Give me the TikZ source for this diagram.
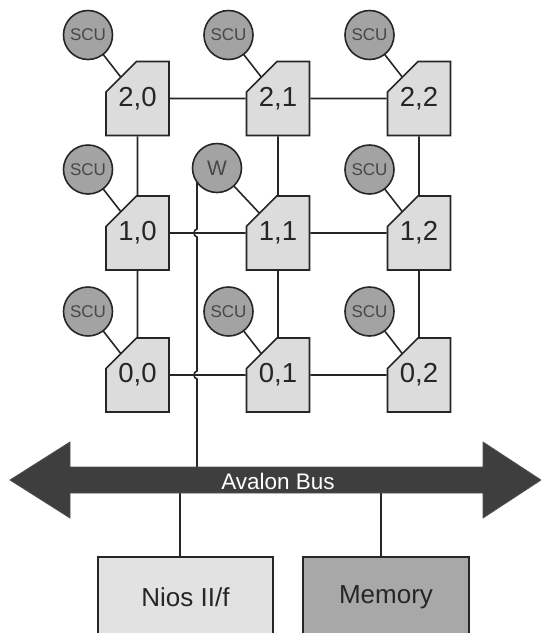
\documentclass[tikz,border=0pt]{standalone}
\usepackage{fontspec}
\setmainfont{Liberation Sans}
\usetikzlibrary{shapes.misc,backgrounds}
\definecolor{ln}{HTML}{262626}
\definecolor{tilefill}{HTML}{DCDCDC}
\definecolor{scufill}{HTML}{A3A3A3}
\definecolor{memfill}{HTML}{A8A8A8}
\definecolor{niosfill}{HTML}{E2E2E2}
\definecolor{busfill}{HTML}{3E3E3E}
\tikzset{
  tile/.style={chamfered rectangle, chamfered rectangle corners=north west,
    chamfered rectangle xsep=25pt, chamfered rectangle ysep=23pt,
    minimum width=63pt, minimum height=74pt, inner sep=0pt,
    draw=ln, fill=tilefill, line width=1.6pt, text=ln,
    font=\fontsize{27.5}{30}\selectfont},
  unit/.style={circle, minimum size=49pt, inner sep=0pt, draw=ln, fill=scufill,
    line width=1.6pt, text=ln!85, font=\fontsize{17}{18}\selectfont},
  wire/.style={draw=ln, line width=1.6pt},
  block/.style={rectangle, draw=ln, line width=1.6pt, inner sep=0pt, text=ln,
    font=\fontsize{26}{30}\selectfont}
}
\begin{document}
\begin{tikzpicture}[x=1pt,y=-1pt]
\useasboundingbox (0,0) rectangle (541,633);
\clip (0,0) rectangle (541,633);
% tiles
\node[tile] (t20) at (137.5,98.5) {2,0};
\node[tile] (t21) at (278,98.5) {2,1};
\node[tile] (t22) at (419,98.5) {2,2};
\node[tile] (t10) at (137.5,233) {1,0};
\node[tile] (t11) at (278,233) {1,1};
\node[tile] (t12) at (419,233) {1,2};
\node[tile] (t00) at (137.5,375) {0,0};
\node[tile] (t01) at (278,375) {0,1};
\node[tile] (t02) at (419,375) {0,2};
% SCUs
\node[unit] (s20) at (88,35) {SCU};
\node[unit] (s21) at (228.5,35) {SCU};
\node[unit] (s22) at (369.5,35) {SCU};
\node[unit] (s10) at (88,169.5) {SCU};
\node[unit] (s12) at (369.5,169.5) {SCU};
\node[unit] (s00) at (88,311.5) {SCU};
\node[unit] (s01) at (228.5,311.5) {SCU};
\node[unit] (s02) at (369.5,311.5) {SCU};
\node[unit, font=\fontsize{21}{24}\selectfont] (w) at (217,168) {W};
% bus
\fill[busfill, draw=ln!80, line width=0.8pt]
  (10,480) -- (70,442) -- (70,467) -- (483,467) -- (483,442) -- (541,480)
  -- (483,518) -- (483,493) -- (70,493) -- (70,518) -- cycle;
\node[text=white, font=\fontsize{22.5}{24}\selectfont] (bus) at (278,481) {Avalon Bus};
\coordinate (wbus) at (197,467);
\coordinate (niosbus) at (180,493);
\coordinate (membus) at (381,493);
% bottom blocks
\node[block, fill=niosfill, minimum width=175pt, minimum height=81pt] (nios) at (185.5,597.5) {Nios II/f};
\node[block, fill=memfill, minimum width=166pt, minimum height=81pt] (mem) at (386,597.5) {Memory};
\begin{scope}[on background layer]
  % mesh links
  \draw[wire] (t20) -- (t21);
  \draw[wire] (t21) -- (t22);
  \draw[wire] (t10) -- (t11);
  \draw[wire] (t11) -- (t12);
  \draw[wire] (t00) -- (t01);
  \draw[wire] (t01) -- (t02);
  \draw[wire] (t20) -- (t10);
  \draw[wire] (t10) -- (t00);
  \draw[wire] (t21) -- (t11);
  \draw[wire] (t11) -- (t01);
  \draw[wire] (t22) -- (t12);
  \draw[wire] (t12) -- (t02);
  % unit links
  \draw[wire] (s20.center) -- (t20.center);
  \draw[wire] (s21.center) -- (t21.center);
  \draw[wire] (s22.center) -- (t22.center);
  \draw[wire] (s10.center) -- (t10.center);
  \draw[wire] (s12.center) -- (t12.center);
  \draw[wire] (s00.center) -- (t00.center);
  \draw[wire] (s01.center) -- (t01.center);
  \draw[wire] (s02.center) -- (t02.center);
  \draw[wire] (w.center) -- (t11.center);
  % W to bus, hopping over the row links
  \draw[wire] (w.center -| wbus) -- (197,229)
    .. controls (193,230) and (193,236) .. (197,237) -- (197,371)
    .. controls (193,372) and (193,378) .. (197,379) -- (wbus);
  \draw[wire] (niosbus) -- (nios.north -| niosbus);
  \draw[wire] (membus) -- (mem.north -| membus);
\end{scope}
\end{tikzpicture}
\end{document}
